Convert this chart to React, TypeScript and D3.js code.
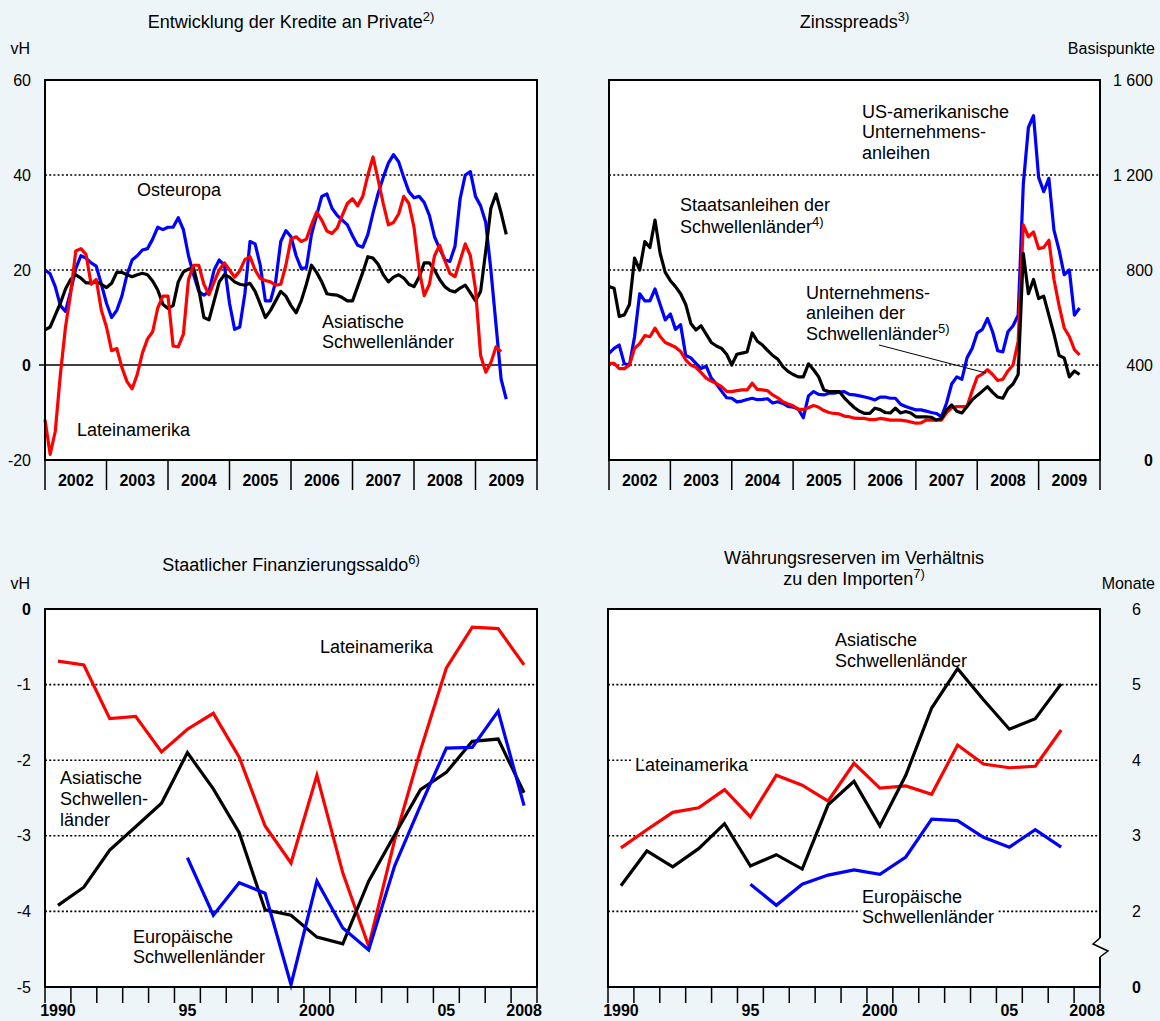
import React from "react";
import * as d3 from "d3";

const FONT = "'Liberation Sans', Arial, Helvetica, sans-serif";
const BG = "#EEF5F8";
const BLUE = "#0000FF";
const RED = "#FF0000";
const BLACK = "#000000";

// ---------- Panel 1: Kredite an Private (vH), monthly from Jan 2002 ----------
const creditYears = ["2002", "2003", "2004", "2005", "2006", "2007", "2008", "2009"];
const creditAsien = [
  7.4, 8, 10.5, 13, 16, 18, 19, 18.3, 17.3, 17.3, 17.5, 17,
  16.3, 17.2, 19.5, 19.5, 19, 18.6, 19, 19.3, 19, 17.7, 15.8, 12.8,
  11.9, 12.5, 17.5, 19.6, 20.2, 20.4, 16, 10, 9.5, 13.5, 17.5, 19,
  18.5, 17.5, 17, 16.8, 17.2, 15.5, 12.8, 10, 11.5, 13.5, 15.5, 14.5,
  12.5, 11, 13.5, 17, 21, 19.5, 17.5, 15, 14.8, 14.7, 14.2, 13.5,
  13.5, 16.5, 19.5, 22.8, 22.5, 21.2, 19, 17.5, 18.5, 19, 18.3, 17,
  16.5, 18.5, 21.5, 21.5, 20, 18, 16.5, 15.7, 15.4, 16.2, 16.8, 15.2,
  13.5, 15.5, 24, 33, 36, 32, 27.5,
];
const creditOsteuropa = [
  20, 19.2, 16.5, 12.5, 11.3, 15.5, 20.3, 23, 22.5, 21.5, 20.8, 17,
  13, 10, 11.5, 14.5, 19, 22.1, 23, 24.2, 24.5, 26.5, 29, 28.5,
  29, 29, 31, 28.5, 23, 19, 15.5, 14.7, 15.5, 20, 22.1, 21,
  13, 7.5, 8, 15, 26, 25.5, 21, 13.5, 13.5, 17.5, 26, 28.3,
  27, 23, 20.3, 20.5, 27.5, 31.5, 35.5, 36, 33, 31.5, 30.5, 29.5,
  27.2, 25.2, 24.8, 27.5, 32, 36.1, 39.5, 42.5, 44.3, 42.8, 39.5, 36.5,
  35.2, 35.5, 34.2, 31.5, 27, 24.5, 22.2, 21.8, 25, 35, 40, 40.7,
  35.5, 33.5, 30, 20, 8.5, -3, -7.2,
];
const creditLatein = [
  -11.5, -18.8, -14, -2, 8, 15, 24, 24.5, 23.3, 17, 18, 11.5,
  8, 3, 3.5, -0.5, -3.5, -5, -2, 2.5, 5.5, 7, 12, 14.5,
  14.5, 4, 3.8, 6.5, 18, 21, 21, 17, 14.8, 17.5, 20, 21.5,
  20, 18.5, 19.8, 22.2, 22.8, 20, 18.2, 17.8, 17.5, 16.8, 17, 21,
  26.5, 27, 26, 26.5, 29.5, 32.2, 30.5, 28.2, 27.7, 28.8, 31.5, 34,
  35, 33.5, 35.5, 40, 43.8, 39, 34, 29.5, 30, 31.8, 35.5, 34,
  29, 20, 14.6, 17, 23, 25.2, 22, 19.3, 18.6, 22, 25.5, 23,
  16, 2, -1.5, 0.5, 3.8, 2.8,
];
const creditTicks = [60, 40, 20, 0, -20];

// ---------- Panel 2: Zinsspreads (Basispunkte), monthly from Jan 2002 ----------
const spreadYears = ["2002", "2003", "2004", "2005", "2006", "2007", "2008", "2009"];
const spreadUS = [
  449, 470, 484, 405, 400, 520, 700, 670, 670, 720, 655, 590,
  615, 550, 570, 440, 430, 407, 385, 395, 345, 320, 290, 262,
  260, 245, 248, 255, 260, 254, 255, 258, 240, 245, 238, 226,
  222, 215, 178, 270, 288, 276, 274, 281, 281, 286, 288, 276,
  274, 270, 265, 260, 253, 265, 265, 260, 260, 235, 225, 218,
  211, 211, 206, 200, 196, 182, 240, 320, 350, 340, 430, 470,
  535, 550, 596, 540, 460, 455, 540, 565, 610, 1160, 1400, 1450,
  1190, 1130, 1186, 968, 884, 780, 800, 610, 640,
];
const spreadEMCorp = [
  407, 407, 385, 385, 400, 470, 490, 524, 519, 555, 520, 495,
  485, 475, 457, 422, 400, 390, 368, 345, 332, 322, 309, 289,
  288, 292, 295, 295, 323, 297, 295, 292, 274, 262, 245, 236,
  228, 213, 213, 220, 230, 222, 208, 200, 196, 194, 185, 182,
  176, 175, 175, 170, 170, 175, 172, 168, 168, 168, 165, 160,
  155, 156, 168, 168, 168, 168, 200, 220, 225, 225, 225, 290,
  350, 362, 380, 360, 335, 340, 375, 400, 500, 990, 940, 960,
  890, 895, 925, 760, 650, 556, 520, 465, 442,
];
const spreadEMBI = [
  730, 723, 604, 611, 655, 850, 800, 920, 895, 1010, 870, 790,
  755, 730, 700, 655, 575, 547, 565, 530, 495, 480, 470, 445,
  400, 445, 450, 455, 535, 500, 484, 462, 440, 425, 393, 373,
  360, 350, 350, 405, 380, 350, 295, 288, 288, 288, 262, 240,
  220, 205, 196, 196, 218, 212, 200, 198, 218, 198, 204, 198,
  182, 182, 182, 180, 168, 175, 211, 232, 205, 198, 225, 253,
  272, 290, 309, 285, 265, 260, 300, 320, 360, 870, 700, 760,
  680, 690, 610, 530, 440, 430, 350, 375, 360,
];
const spreadTicks = [1600, 1200, 800, 400, 0];
const spreadTickLabels = ["1 600", "1 200", "800", "400", "0"];

// ---------- Panel 3: Staatlicher Finanzierungssaldo (vH), yearly 1990-2008 ----------
const annualYears = d3.range(1990, 2009);
const annualTickLabels = ["1990", "95", "2000", "05", "2008"];
const annualLabelYears = [1990, 1995, 2000, 2005, 2008];
const saldoLatein = [
  -0.69, -0.74, -1.45, -1.42, -1.89, -1.59, -1.38, -1.96, -2.87, -3.36,
  -2.2, -3.49, -4.46, -3.06, -1.87, -0.78, -0.24, -0.26, -0.74,
];
const saldoAsien = [
  -3.92, -3.68, -3.19, -2.88, -2.57, -1.9, -2.38, -2.96, -3.98, -4.05,
  -4.34, -4.43, -3.6, -2.99, -2.39, -2.16, -1.75, -1.72, -2.43,
];
const saldoEuropaYears = d3.range(1995, 2009);
const saldoEuropa = [
  -3.29, -4.05, -3.62, -3.76, -4.97, -3.6, -4.22, -4.51, -3.4, -2.6,
  -1.84, -1.83, -1.35, -2.6,
];
const saldoTicks = [0, -1, -2, -3, -4, -5];

// ---------- Panel 4: Währungsreserven / Importe (Monate), yearly 1990-2007 ----------
const reserveYears = d3.range(1990, 2008);
const reserveAsien = [
  2.34, 2.8, 2.59, 2.83, 3.16, 2.6, 2.75, 2.56, 3.41, 3.72,
  3.13, 3.8, 4.69, 5.21, 4.8, 4.41, 4.55, 5.01,
];
const reserveLatein = [
  2.84, 3.08, 3.31, 3.37, 3.61, 3.25, 3.8, 3.67, 3.46, 3.96,
  3.63, 3.66, 3.55, 4.2, 3.95, 3.9, 3.92, 4.4,
];
const reserveEuropaYears = d3.range(1995, 2008);
const reserveEuropa = [
  2.36, 2.08, 2.36, 2.48, 2.55, 2.49, 2.72, 3.22, 3.2, 2.98, 2.85, 3.08, 2.85,
];
const reserveTicks = [6, 5, 4, 3, 2];

// ---------- layout ----------
const TL = { x0: 45, x1: 537, y0: 80, y1: 460 };
const TR = { x0: 609, x1: 1100, y0: 80, y1: 460 };
const BL = { x0: 45, x1: 537, y0: 609, y1: 987 };
const BR = { x0: 608, x1: 1100, y0: 609, y1: 987 };

const txt = (x: number, y: number, s: string, extra: any = {}) => (
  <text x={x} y={y} dy="0.35em" fontFamily={FONT} fontSize={18} fill="#000" {...extra}>
    {s}
  </text>
);

// label with white halo (masks the dotted grid behind it, as in the original)
const halo = { stroke: "#fff", strokeWidth: 7, strokeLinejoin: "round", paintOrder: "stroke" };

function Sup({ x, y, main, sup, anchor = "start", size = 18 }: any) {
  return (
    <text x={x} y={y} dy="0.35em" fontFamily={FONT} fontSize={size} textAnchor={anchor} fill="#000">
      {main}
      <tspan dy="-7" fontSize={13}>{sup}</tspan>
    </text>
  );
}

function monthlyLine(values: number[], x: any, y: any) {
  const gen = d3
    .line<number>()
    .x((_, i) => x(2002 + i / 12))
    .y((v) => y(v));
  return gen(values) || "";
}

function annualLine(years: number[], values: number[], x: any, y: any) {
  const gen = d3
    .line<number>()
    .x((_, i) => (x(String(years[i])) as number) + x.bandwidth() / 2)
    .y((v) => y(v));
  return gen(values) || "";
}

function Grid({ p, ys, solid = [] as number[] }: any) {
  return (
    <g>
      {ys.map((yy: number, i: number) => (
        <line key={i} x1={p.x0} x2={p.x1} y1={yy} y2={yy} stroke="#000" strokeWidth={1.6} strokeDasharray="2 2.2" />
      ))}
      {solid.map((yy: number, i: number) => (
        <line key={"s" + i} x1={p.x0 - 6} x2={p.x1} y1={yy} y2={yy} stroke="#000" strokeWidth={1.4} />
      ))}
    </g>
  );
}

function YearBands({ p, years }: any) {
  const band = d3.scaleBand<string>().domain(years).range([p.x0, p.x1]);
  return (
    <g>
      {years.map((yr: string) => (
        <line key={"l" + yr} x1={band(yr)} x2={band(yr)} y1={p.y1} y2={p.y1 + 30} stroke="#000" strokeWidth={1.5} />
      ))}
      <line x1={p.x1} x2={p.x1} y1={p.y1} y2={p.y1 + 30} stroke="#000" strokeWidth={1.5} />
      {years.map((yr: string) => (
        <text
          key={yr}
          x={(band(yr) as number) + band.bandwidth() / 2}
          y={p.y1 + 20}
          dy="0.35em"
          textAnchor="middle"
          fontFamily={FONT}
          fontWeight="bold"
          fontSize={16}
        >
          {yr}
        </text>
      ))}
    </g>
  );
}

function AnnualAxis({ p, x }: any) {
  const edges = [...annualYears.map((y) => x(String(y)) as number), p.x1];
  return (
    <g>
      {edges.map((ex: number, i: number) => (
        <line key={i} x1={ex} x2={ex} y1={p.y1} y2={p.y1 + 16} stroke="#000" strokeWidth={1.5} />
      ))}
      {annualLabelYears.map((yr, i) => (
        <text
          key={yr}
          x={(x(String(yr)) as number) + x.bandwidth() / 2}
          y={p.y1 + 23}
          dy="0.35em"
          textAnchor="middle"
          fontFamily={FONT}
          fontWeight="bold"
          fontSize={16}
        >
          {annualTickLabels[i]}
        </text>
      ))}
    </g>
  );
}

function Box({ p }: any) {
  return <rect x={p.x0} y={p.y0} width={p.x1 - p.x0} height={p.y1 - p.y0} fill="none" stroke="#000" strokeWidth={2} />;
}

export default function App() {
  const W = 1160;
  const H = 1021;

  // scales
  const xTL = d3.scaleLinear().domain([2002, 2010]).range([TL.x0, TL.x1]);
  const yTL = d3.scaleLinear().domain([-20, 60]).range([TL.y1, TL.y0]);
  const xTR = d3.scaleLinear().domain([2002, 2010]).range([TR.x0, TR.x1]);
  const yTR = d3.scaleLinear().domain([0, 1600]).range([TR.y1, TR.y0]);
  const xBL = d3.scaleBand<string>().domain(annualYears.map(String)).range([BL.x0, BL.x1]);
  const yBL = d3.scaleLinear().domain([-5, 0]).range([BL.y1, BL.y0]);
  const xBR = d3.scaleBand<string>().domain(annualYears.map(String)).range([BR.x0, BR.x1]);
  const yBR = d3.scaleLinear().domain([1, 6]).range([BR.y1, BR.y0]);

  const lw = 3.2;

  return (
    <div style={{ position: "absolute", left: 0, top: 0 }}>
      <svg width={W} height={H} viewBox={`0 0 ${W} ${H}`} style={{ display: "block" }}>
        <rect x={0} y={0} width={W} height={H} fill={BG} />

        {/* ================= Panel 1 ================= */}
        <Sup x={(TL.x0 + TL.x1) / 2} y={22} main="Entwicklung der Kredite an Private" sup="2)" anchor="middle" />
        {txt(30, 48, "vH", { textAnchor: "end", fontSize: 16 })}
        <rect x={TL.x0} y={TL.y0} width={TL.x1 - TL.x0} height={TL.y1 - TL.y0} fill="#fff" />
        <Grid p={TL} ys={[yTL(40), yTL(20)]} solid={[yTL(0)]} />
        {creditTicks.map((t) =>
          <text key={t} x={31} y={yTL(t)} dy="0.35em" textAnchor="end" fontFamily={FONT} fontSize={16}
            fontWeight={t === 0 ? "bold" : "normal"}>{t}</text>
        )}
        <path d={monthlyLine(creditOsteuropa, xTL, yTL)} fill="none" stroke={BLUE} strokeWidth={lw} strokeLinejoin="round" />
        <path d={monthlyLine(creditAsien, xTL, yTL)} fill="none" stroke={BLACK} strokeWidth={lw} strokeLinejoin="round" />
        <path d={monthlyLine(creditLatein, xTL, yTL)} fill="none" stroke={RED} strokeWidth={lw} strokeLinejoin="round" />
        {txt(137, 190, "Osteuropa")}
        {txt(322, 322, "Asiatische")}
        {txt(322, 342, "Schwellenländer")}
        {txt(77, 430, "Lateinamerika")}
        <Box p={TL} />
        <YearBands p={TL} years={creditYears} />

        {/* ================= Panel 2 ================= */}
        <Sup x={(TR.x0 + TR.x1) / 2} y={22} main="Zinsspreads" sup="3)" anchor="middle" />
        {txt(1155, 48, "Basispunkte", { textAnchor: "end", fontSize: 16 })}
        <rect x={TR.x0} y={TR.y0} width={TR.x1 - TR.x0} height={TR.y1 - TR.y0} fill="#fff" />
        <Grid p={TR} ys={[yTR(1200), yTR(800), yTR(400)]} />
        {spreadTicks.map((t, i) =>
          <text key={t} x={1153} y={yTR(t)} dy="0.35em" textAnchor="end" fontFamily={FONT} fontSize={16}
            fontWeight={t === 0 ? "bold" : "normal"}>{spreadTickLabels[i]}</text>
        )}
        <path d={monthlyLine(spreadUS, xTR, yTR)} fill="none" stroke={BLUE} strokeWidth={lw} strokeLinejoin="round" />
        <path d={monthlyLine(spreadEMCorp, xTR, yTR)} fill="none" stroke={RED} strokeWidth={lw} strokeLinejoin="round" />
        <path d={monthlyLine(spreadEMBI, xTR, yTR)} fill="none" stroke={BLACK} strokeWidth={lw} strokeLinejoin="round" />
        {txt(862, 112, "US-amerikanische")}
        {txt(862, 132, "Unternehmens-")}
        {txt(862, 153, "anleihen")}
        {txt(680, 205, "Staatsanleihen der")}
        <Sup x={680} y={227} main="Schwellenländer" sup="4)" />
        {txt(806, 293, "Unternehmens-")}
        {txt(806, 313, "anleihen der")}
        <Sup x={806} y={334} main="Schwellenländer" sup="5)" />
        <line x1={879} y1={345} x2={986} y2={373} stroke="#000" strokeWidth={1} />
        <Box p={TR} />
        <YearBands p={TR} years={spreadYears} />

        {/* ================= Panel 3 ================= */}
        <Sup x={(BL.x0 + BL.x1) / 2} y={565} main="Staatlicher Finanzierungssaldo" sup="6)" anchor="middle" />
        {txt(30, 583, "vH", { textAnchor: "end", fontSize: 16 })}
        <rect x={BL.x0} y={BL.y0} width={BL.x1 - BL.x0} height={BL.y1 - BL.y0} fill="#fff" />
        <Grid p={BL} ys={[yBL(-1), yBL(-2), yBL(-3), yBL(-4)]} />
        {saldoTicks.map((t) =>
          <text key={t} x={31} y={yBL(t)} dy="0.35em" textAnchor="end" fontFamily={FONT} fontSize={16}
            fontWeight={t === 0 ? "bold" : "normal"}>{t}</text>
        )}
        {txt(60, 778, "Asiatische", halo)}
        {txt(60, 799, "Schwellen-", halo)}
        {txt(60, 820, "länder", halo)}
        <path d={annualLine(annualYears, saldoLatein, xBL, yBL)} fill="none" stroke={RED} strokeWidth={lw} />
        <path d={annualLine(annualYears, saldoAsien, xBL, yBL)} fill="none" stroke={BLACK} strokeWidth={lw} />
        <path d={annualLine(saldoEuropaYears, saldoEuropa, xBL, yBL)} fill="none" stroke={BLUE} strokeWidth={lw} />
        {txt(320, 647, "Lateinamerika")}
        {txt(133, 937, "Europäische", halo)}
        {txt(133, 957, "Schwellenländer", halo)}
        <Box p={BL} />
        <AnnualAxis p={BL} x={xBL} />

        {/* ================= Panel 4 ================= */}
        {txt((BR.x0 + BR.x1) / 2, 558, "Währungsreserven im Verhältnis", { textAnchor: "middle" })}
        <Sup x={(BR.x0 + BR.x1) / 2} y={579} main="zu den Importen" sup="7)" anchor="middle" />
        {txt(1155, 583, "Monate", { textAnchor: "end", fontSize: 16 })}
        <rect x={BR.x0} y={BR.y0} width={BR.x1 - BR.x0} height={BR.y1 - BR.y0} fill="#fff" />
        <Grid p={BR} ys={[yBR(5), yBR(4), yBR(3), yBR(2)]} />
        {reserveTicks.map((t) =>
          <text key={t} x={1141} y={yBR(t)} dy="0.35em" textAnchor="end" fontFamily={FONT} fontSize={16}>{t}</text>
        )}
        <text x={1141} y={BR.y1} dy="0.35em" textAnchor="end" fontFamily={FONT} fontSize={16} fontWeight="bold">0</text>
        {txt(635, 765, "Lateinamerika", halo)}
        {txt(862, 897, "Europäische", halo)}
        {txt(862, 917, "Schwellenländer", halo)}
        <path d={annualLine(reserveYears, reserveLatein, xBR, yBR)} fill="none" stroke={RED} strokeWidth={lw} />
        <path d={annualLine(reserveYears, reserveAsien, xBR, yBR)} fill="none" stroke={BLACK} strokeWidth={lw} />
        <path d={annualLine(reserveEuropaYears, reserveEuropa, xBR, yBR)} fill="none" stroke={BLUE} strokeWidth={lw} />
        {txt(835, 640, "Asiatische")}
        {txt(835, 661, "Schwellenländer")}
        <Box p={BR} />
        <AnnualAxis p={BR} x={xBR} />
        {/* axis break */}
        <rect x={BR.x1 - 2} y={938} width={4} height={19} fill="#fff" />
        <polyline points={`${BR.x1},938 ${BR.x1 - 7},944 ${BR.x1 + 8},951 ${BR.x1},957`} fill="none" stroke="#000" strokeWidth={1.5} />
      </svg>
    </div>
  );
}
